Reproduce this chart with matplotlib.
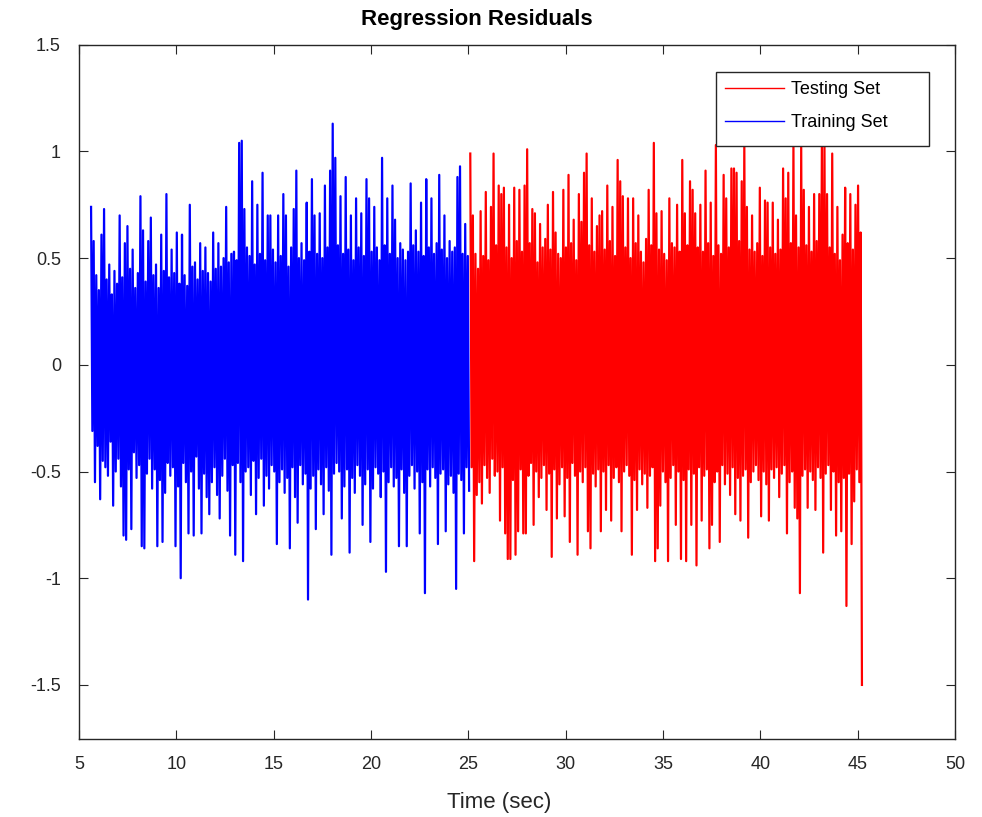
import numpy as np
import matplotlib.pyplot as plt
from matplotlib.patches import Rectangle
from matplotlib.ticker import FormatStrFormatter

plt.rcParams['font.family'] = ['Liberation Sans', 'DejaVu Sans']
plt.rcParams['axes.unicode_minus'] = False
# keep every zig-zag sample, otherwise the dense band gets thinned out
plt.rcParams['path.simplify'] = False

# time spans of the two sets (s)
train_span = (5.62, 25.04)
test_span = (25.10, 45.22)

# residuals, training set
train_res = [
    0.74, -0.31, 0.58, -0.55, 0.42, -0.38, 0.35, -0.63, 0.61, -0.45,
    0.73, -0.48, 0.40, -0.52, 0.47, -0.36, 0.33, -0.66, 0.44, -0.50,
    0.38, -0.44, 0.70, -0.57, 0.41, -0.80, 0.57, -0.82, 0.65, -0.49,
    0.45, -0.77, 0.54, -0.41, 0.36, -0.53, 0.43, -0.47, 0.79, -0.85,
    0.63, -0.86, 0.39, -0.51, 0.58, -0.44, 0.69, -0.58, 0.42, -0.49,
    0.47, -0.85, 0.36, -0.54, 0.61, -0.83, 0.44, -0.60, 0.80, -0.46,
    0.41, -0.52, 0.54, -0.48, 0.43, -0.85, 0.62, -0.57, 0.38, -1.00,
    0.61, -0.46, 0.42, -0.55, 0.37, -0.79, 0.75, -0.50, 0.46, -0.80,
    0.48, -0.43, 0.40, -0.58, 0.57, -0.79, 0.44, -0.51, 0.55, -0.62,
    0.43, -0.70, 0.39, -0.55, 0.62, -0.48, 0.45, -0.61, 0.57, -0.72,
    0.46, -0.52, 0.50, -0.44, 0.74, -0.59, 0.48, -0.80, 0.52, -0.47,
    0.53, -0.89, 0.49, -0.46, 1.04, -0.55, 1.05, -0.92, 0.73, -0.50,
    0.55, -0.48, 0.51, -0.61, 0.86, -0.45, 0.47, -0.70, 0.75, -0.53,
    0.52, -0.44, 0.90, -0.66, 0.49, -0.52, 0.70, -0.58, 0.70, -0.47,
    0.54, -0.50, 0.48, -0.84, 0.70, -0.55, 0.51, -0.49, 0.80, -0.60,
    0.70, -0.53, 0.46, -0.86, 0.55, -0.48, 0.73, -0.62, 0.91, -0.74,
    0.50, -0.47, 0.57, -0.56, 0.49, -0.51, 0.76, -1.10, 0.53, -0.58,
    0.87, -0.52, 0.70, -0.77, 0.52, -0.49, 0.71, -0.56, 0.50, -0.70,
    0.84, -0.48, 0.55, -0.59, 0.91, -0.89, 1.13, -0.51, 0.97, -0.46,
    0.56, -0.50, 0.79, -0.72, 0.52, -0.57, 0.88, -0.49, 0.54, -0.88,
    0.70, -0.53, 0.49, -0.60, 0.78, -0.47, 0.55, -0.52, 0.71, -0.75,
    0.51, -0.56, 0.87, -0.49, 0.78, -0.83, 0.53, -0.58, 0.74, -0.48,
    0.55, -0.51, 0.49, -0.62, 0.97, -0.50, 0.56, -0.97, 0.78, -0.55,
    0.52, -0.48, 0.84, -0.57, 0.68, -0.53, 0.50, -0.85, 0.57, -0.49,
    0.54, -0.60, 0.49, -0.85, 0.53, -0.52, 0.85, -0.47, 0.56, -0.58,
    0.63, -0.50, 0.53, -0.79, 0.76, -0.55, 0.51, -1.07, 0.87, -0.49,
    0.55, -0.57, 0.78, -0.48, 0.52, -0.53, 0.57, -0.84, 0.89, -0.51,
    0.54, -0.49, 0.70, -0.78, 0.50, -0.56, 0.58, -0.52, 0.53, -0.60,
    0.55, -1.05, 0.88, -0.51, 0.93, -0.54, 0.52, -0.79, 0.66, -0.48,
    0.51, -0.59,
]

# residuals, testing set
test_res = [
    0.99, -0.48, 0.70, -0.92, 0.52, -0.61, 0.45, -0.55, 0.72, -0.65,
    0.51, -0.47, 0.81, -0.53, 0.49, -0.60, 0.74, -0.44, 0.99, -0.52,
    0.56, -0.50, 0.84, -0.73, 0.80, -0.48, 0.83, -0.79, 0.55, -0.91,
    0.75, -0.91, 0.50, -0.54, 0.83, -0.89, 0.58, -0.78, 0.82, -0.49,
    0.53, -0.79, 0.84, -0.79, 1.01, -0.52, 0.57, -0.46, 0.73, -0.75,
    0.71, -0.50, 0.48, -0.62, 0.66, -0.53, 0.55, -0.47, 0.59, -0.68,
    0.75, -0.51, 0.54, -0.90, 0.81, -0.49, 0.62, -0.72, 0.52, -0.56,
    0.50, -0.48, 0.82, -0.71, 0.55, -0.53, 0.89, -0.83, 0.57, -0.46,
    0.68, -0.52, 0.49, -0.89, 0.80, -0.50, 0.67, -0.55, 0.90, -0.48,
    0.99, -0.78, 0.56, -0.86, 0.78, -0.51, 0.53, -0.57, 0.65, -0.49,
    0.70, -0.78, 0.72, -0.50, 0.54, -0.68, 0.84, -0.47, 0.58, -0.73,
    0.74, -0.53, 0.51, -0.48, 0.96, -0.55, 0.86, -0.78, 0.79, -0.50,
    0.55, -0.47, 0.78, -0.52, 0.50, -0.89, 0.78, -0.54, 0.57, -0.68,
    0.70, -0.49, 0.53, -0.56, 0.48, -0.51, 0.59, -0.67, 0.82, -0.52,
    0.56, -0.48, 1.04, -0.92, 0.71, -0.86, 0.54, -0.66, 0.72, -0.50,
    0.52, -0.55, 0.49, -0.92, 0.78, -0.53, 0.57, -0.47, 0.55, -0.75,
    0.75, -0.50, 0.53, -0.91, 0.96, -0.54, 0.71, -0.92, 0.56, -0.49,
    0.86, -0.75, 0.82, -0.51, 0.71, -0.94, 0.55, -0.48, 0.75, -0.73,
    0.53, -0.52, 0.91, -0.49, 0.57, -0.86, 0.76, -0.75, 0.51, -0.55,
    1.03, -0.50, 0.56, -0.83, 0.52, -0.47, 0.89, -0.56, 0.78, -0.51,
    0.55, -0.61, 0.92, -0.48, 0.92, -0.70, 0.90, -0.53, 0.58, -0.73,
    0.86, -0.52, 1.03, -0.49, 0.74, -0.81, 0.54, -0.55, 0.70, -0.50,
    0.53, -0.47, 0.57, -0.54, 0.83, -0.71, 0.51, -0.50, 0.77, -0.56,
    0.76, -0.73, 0.55, -0.49, 0.76, -0.53, 0.52, -0.48, 0.68, -0.62,
    0.54, -0.51, 0.92, -0.47, 0.78, -0.79, 0.90, -0.55, 0.57, -0.50,
    1.03, -0.67, 0.70, -0.72, 0.55, -1.07, 1.03, -0.52, 0.82, -0.49,
    0.56, -0.67, 0.74, -0.50, 0.53, -0.54, 0.80, -0.68, 0.58, -0.48,
    0.80, -0.53, 1.03, -0.88, 1.03, -0.51, 0.80, -0.47, 0.55, -0.68,
    0.99, -0.50, 0.52, -0.80, 0.74, -0.55, 0.49, -0.78, 0.61, -0.53,
    0.83, -1.13, 0.57, -0.51, 0.80, -0.84, 0.54, -0.64, 0.75, -0.49,
    0.84, -0.55, 0.62, -1.50,
]

x_ticks = [5, 10, 15, 20, 25, 30, 35, 40, 45, 50]
y_ticks = [-1.5, -1, -0.5, 0, 0.5, 1, 1.5]

# samples are evenly spaced in time
t_train = np.linspace(*train_span, len(train_res))
t_test = np.linspace(*test_span, len(test_res))

fig = plt.figure(figsize=(9.82, 8.17), dpi=100)
ax = fig.add_axes([79 / 982, 78.3 / 817, 876 / 982, 694 / 817])

ax.plot(t_test, test_res, color='#ff0000', lw=1.6, label='Testing Set')
ax.plot(t_train, train_res, color='#0000ff', lw=1.6, label='Training Set')

ax.set_xlim(5, 50)
ax.set_ylim(-1.752, 1.5)
ax.set_xticks(x_ticks)
ax.set_yticks(y_ticks)
ax.yaxis.set_major_formatter(FormatStrFormatter('%g'))

axis_gray = '#262626'
for side in ax.spines.values():
    side.set_color(axis_gray)
    side.set_linewidth(1.0)
ax.tick_params(direction='in', length=6.5, width=0.8, color=axis_gray,
               labelcolor=axis_gray, labelsize=13, top=True, right=True)
ax.tick_params(axis='y', pad=13)
ax.tick_params(axis='x', pad=12.5)

ax.set_xlabel('Time (sec)', fontsize=16, color=axis_gray)
ax.xaxis.set_label_coords(0.48, -0.092, transform=ax.transAxes)
ax.xaxis.label.set_verticalalignment('center')
ax.set_title('Regression Residuals', fontsize=16, fontweight='bold',
             x=0.454, pad=14)

# legend box, white, drawn over the traces
ax.add_patch(Rectangle((0.727, 0.854), 0.243, 0.1067, transform=ax.transAxes,
                       facecolor='white', edgecolor=axis_gray, lw=1.0, zorder=4))
leg = ax.legend(loc='upper left', bbox_to_anchor=(0.727, 0.9607),
                fontsize=13, handlelength=3.3, handletextpad=0.35,
                labelspacing=0.9, borderpad=0.5, borderaxespad=0,
                frameon=False)
for handle in leg.get_lines():
    handle.set_linewidth(1.0)
leg.set_zorder(5)

fig.savefig('out.png', dpi=100)
